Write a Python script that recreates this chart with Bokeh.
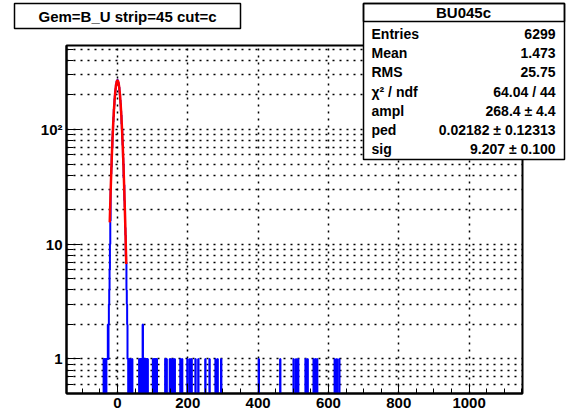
import numpy as np
from bokeh.plotting import figure
from bokeh.models import FixedTicker, GridBox
from bokeh.core.properties import value
from bokeh.embed import file_html
from bokeh.resources import INLINE

# ---------------- data ----------------
title_text = "Gem=B_U strip=45 cut=c"
stats_title = "BU045c"
stats_labels = ["Entries", "Mean", "RMS", "\u03c7\u00b2 / ndf", "ampl", "ped", "sig"]
stats_values = ["6299", "1.473", "25.75", "64.04 / 44", "268.4 \u00b1 4.4",
                "0.02182 \u00b1 0.12313", "9.207 \u00b1 0.100"]

hist_first_bin = -145
hist_last_bin = 1151

core_first_bin = -40
core_counts = [0, 1, 0, 1, 1, 0, 1, 1, 0, 1,
               1, 1, 1, 2, 1, 2, 3, 4, 6, 10,
               16, 30, 41, 47, 60, 69, 86, 97, 117, 129,
               151, 163, 186, 198, 219, 228, 247, 251, 265, 262,
               272, 264, 259, 256, 240, 234, 213, 203, 181, 169,
               146, 134, 112, 101, 82, 73, 57, 50, 38, 33,
               24, 21, 14, 12, 8, 7, 4, 3, 2, 1,
               1, 0, 1, 1, 0, 0, 1, 0, 0, 0, 0]

outlier_bins = [42, 62, 65, 66, 68, 70, 72, 73, 75, 77, 79, 80, 82, 84, 86,
                101, 104, 108, 112, 136, 140, 149, 152, 158, 163, 179, 184,
                199, 206, 211, 222, 230, 250, 262, 279, 285, 295, 402, 463,
                501, 508, 514, 535, 541, 558, 563, 568, 618, 624, 631]
outlier_counts = [1, 1, 1, 1, 1, 1, 2, 1, 1, 1, 1, 1, 1, 1, 1,
                  1, 1, 1, 1, 1, 1, 1, 1, 1, 1, 1, 1,
                  1, 1, 1, 1, 1, 1, 1, 1, 1, 1, 1, 1,
                  1, 1, 1, 1, 1, 1, 1, 1, 1, 1, 1]

# gaussian fit curve (ampl 268.4, ped 0.02182, sig 9.207), sampled over fit range
fit_x = list(range(-22, 26))
fit_y = [15.5, 19.9, 25.4, 31.9, 39.7, 48.8, 59.3, 71.2, 84.5, 99.0,
         114.8, 131.5, 148.8, 166.4, 184.0, 201.0, 217.0, 231.6, 244.2, 254.5,
         262.1, 266.8, 268.4, 266.8, 262.1, 254.5, 244.2, 231.6, 217.0, 201.0,
         184.0, 166.4, 148.8, 131.5, 114.8, 99.0, 84.5, 71.2, 59.3, 48.8,
         39.7, 31.9, 25.4, 19.9, 15.5, 11.8, 8.98, 6.73]

x_major = [0, 200, 400, 600, 800, 1000]
x_minor = [-100, -50] + list(range(0, 1151, 50))
y_major = [1, 10, 100]
y_minor = [0.5, 0.6, 0.7, 0.8, 0.9, 2, 3, 4, 5, 6, 7, 8, 9,
           20, 30, 40, 50, 60, 70, 80, 90, 200, 300, 400, 500]
y_labels = {1: "1", 10: "10", 100: "10\u00b2"}

# ---------------- build histogram outline ----------------
nb = hist_last_bin - hist_first_bin + 1
counts = np.zeros(nb)
for i, c in enumerate(core_counts):
    counts[core_first_bin + i - hist_first_bin] = c
for b, c in zip(outlier_bins, outlier_counts):
    counts[b - hist_first_bin] = c
edges = np.arange(hist_first_bin, hist_last_bin + 2) - 0.5
xs = np.repeat(edges, 2)[1:-1]
ys = np.repeat(counts, 2)
ys = np.where(ys > 0, ys, 0.01)

# ---------------- main figure ----------------
W, H = 567, 417
FONT = "Liberation Sans"

p = figure(width=W, height=H, y_axis_type="log",
           x_range=(-145, 1152), y_range=(0.5, 540),
           output_backend="svg", toolbar_location=None,
           min_border_left=66, min_border_top=45,
           min_border_right=45, min_border_bottom=24)
p.background_fill_color = "white"
p.border_fill_color = "white"
p.outline_line_color = "black"
p.outline_line_width = 2

xt = FixedTicker(ticks=x_major, minor_ticks=x_minor)
yt = FixedTicker(ticks=y_major, minor_ticks=y_minor)
p.xaxis.ticker = xt
p.yaxis.ticker = yt
p.xgrid.ticker = xt
p.ygrid.ticker = yt
p.yaxis.major_label_overrides = y_labels

for ax in (p.xaxis, p.yaxis):
    ax.axis_line_width = 2
    ax.axis_line_color = "black"
    ax.major_tick_out = 0
    ax.minor_tick_out = 0
    ax.major_tick_line_color = "black"
    ax.minor_tick_line_color = "black"
    ax.major_label_text_font = FONT
    ax.major_label_text_font_style = "bold"
    ax.major_label_text_font_size = "15px"
    ax.major_label_text_color = "black"
p.xaxis.major_tick_in = 10
p.xaxis.minor_tick_in = 5
p.yaxis.major_tick_in = 14
p.yaxis.minor_tick_in = 7
p.xaxis.major_label_standoff = 4
p.yaxis.major_label_standoff = 4

for g in (p.xgrid, p.ygrid):
    g.grid_line_color = "black"
    g.grid_line_dash = "2 5"
    g.grid_line_width = 1.5
p.ygrid.minor_grid_line_color = "black"
p.ygrid.minor_grid_line_dash = "2 5"
p.ygrid.minor_grid_line_width = 1.5

p.line(xs, ys, line_color="#0000ff", line_width=2)
p.line(fit_x, fit_y, line_color="#ff0000", line_width=2.5)

# ---------------- overlay (pixel coordinates) for title and stats boxes ----------------
o = figure(width=W, height=H, x_range=(0, W), y_range=(H, 0),
           output_backend="svg", toolbar_location=None,
           x_axis_location=None, y_axis_location=None, min_border=0)
o.grid.visible = False
o.outline_line_color = None
o.background_fill_alpha = 0
o.border_fill_alpha = 0
for fig in (p, o):
    if "frame_align" in fig.properties():
        fig.frame_align = False

# title box
o.quad(left=[14], right=[240], top=[3], bottom=[28],
       fill_color="white", line_color="black", line_width=1.5)
o.text(x=[127], y=[16], text=[title_text], text_font=value(FONT),
       text_font_style="bold", text_font_size=value("15px"),
       text_align="center", text_baseline="middle", text_color="black")

# stats box
o.quad(left=[363, 363], right=[564, 564], top=[3, 3], bottom=[159, 21],
       fill_color="white", fill_alpha=[1, 0], line_color="black", line_width=1.5)
o.text(x=[463], y=[12], text=[stats_title], text_font=value(FONT),
       text_font_style="bold", text_font_size=value("15px"),
       text_align="center", text_baseline="middle", text_color="black")
row_y = [33, 52, 71, 91, 110, 129, 148]
o.text(x=[371] * len(row_y), y=row_y, text=stats_labels, text_font=value(FONT),
       text_font_style="bold", text_font_size=value("14px"),
       text_align="left", text_baseline="middle", text_color="black")
o.text(x=[555] * len(row_y), y=row_y, text=stats_values, text_font=value(FONT),
       text_font_style="bold", text_font_size=value("14px"),
       text_align="right", text_baseline="middle", text_color="black")

layout = GridBox(children=[(p, 0, 0), (o, 0, 0)])
open("out.html", "w").write(file_html(layout, INLINE))
